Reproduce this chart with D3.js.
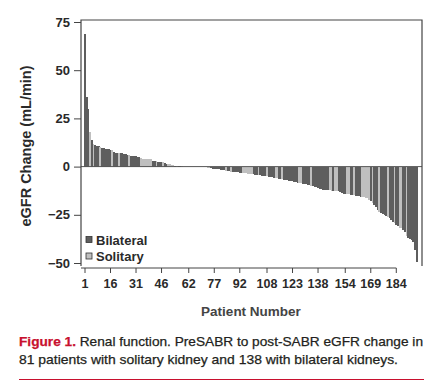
<!DOCTYPE html>
<html><head><meta charset="utf-8">
<script src="https://cdn.jsdelivr.net/npm/d3@7"></script>
<style>body{margin:0;background:#fff}svg{display:block}</style>
</head><body>
<svg id="c" width="446" height="381"></svg>
<script>
// eGFR change per patient (sorted), and kidney status (B = bilateral, S = solitary)
const change = [
 69,36,30,18,14,11.5,11,10.8,10.6,10.2,
 9.6,9.4,9.2,9,8.9,8.8,8.6,7.4,7.2,7.1,
 7,6.9,6.8,6.7,6.6,6,5.8,5.6,5.5,5.4,
 5.3,5.2,5.1,4.3,4.2,4.1,4,3.9,3.8,3.7,
 2.9,2.8,2.7,2.6,2.5,2.4,2.3,1.7,1.6,1.4,
 1.2,0.9,0.6,
 0.3,0.2,0.2,0.1,0.1,0,0,0,0,0,0,0,0,-0.1,-0.1,-0.2,-0.2,-0.3,-0.4,
 -0.6,-0.7,-0.9,-1.0,-1.1,-1.2,-1.3,-1.5,-1.6,-1.8,
 -2.0,-2.2,-2.4,-2.5,-2.6,-2.7,-2.8,-2.9,-3.0,-3.1,
 -3.2,-3.3,-3.4,-3.5,-3.6,-3.7,-3.8,-4.0,-4.1,-4.2,
 -4.3,-4.5,-4.7,-4.9,-5.0,-5.1,-5.2,-5.4,-5.6,-5.8,
 -5.9,-6.0,-6.2,-6.4,-6.5,-6.7,-6.9,-7.1,-7.3,-7.5,
 -7.7,-7.9,-8.1,-8.3,-8.5,-8.6,-8.8,-9.0,-9.2,-9.4,
 -9.6,-9.9,-10.2,-10.5,-10.8,-11.1,-11.4,-11.7,-11.9,-12.0,
 -12.1,-12.2,-12.3,-12.4,-12.5,-12.6,-12.7,-12.8,-13.0,-13.6,
 -14.0,-14.1,-14.2,-14.3,-14.5,-14.7,-14.8,-15.0,-15.1,-15.3,
 -15.6,-15.8,-16.0,-16.2,-16.5,-17.2,-18.0,-19.0,-20.0,-21.0,
 -22.5,-23.5,-24.0,-24.5,-25.0,-25.5,-26.0,-26.5,-27.5,-28.5,
 -29.5,-30.5,-31.0,-31.8,-32.0,-33.0,-34.0,-36.0,-37.0,-37.5,
 -38.3,-39.0,-43.0,-49.5
];
const kidney = [
 "B","B","B","S","B","S","B","B","B","S",
 "B","B","B","B","B","B","S","B","B","B",
 "S","B","B","B","B","B","S","B","B","B",
 "B","B","B","S","S","S","S","S","S","S",
 "B","B","S","B","B","B","S","B","B","S",
 "S","S","S",
 "B","S","B","B","S","B","B","S","B","B","B","S","B","B","S","B","B","B","S",
 "S","S","B","B","B","B","B","B","B","B",
 "B","S","B","B","S","B","B","B","B","B",
 "B","S","S","S","S","S","S","B","B","B",
 "S","B","B","B","B","S","B","B","B","B",
 "S","S","B","B","S","B","B","B","B","B",
 "B","B","B","B","S","S","B","B","B","B",
 "B","S","B","B","B","B","B","B","B","B",
 "B","B","S","S","B","S","S","B","B","B",
 "B","B","S","S","B","B","S","B","B","B",
 "B","S","S","S","S","S","B","S","B","B",
 "B","S","B","B","B","B","S","B","B","B",
 "S","B","B","S","S","B","B","S","B","B",
 "B","B","B","B"
];
const tickLabels = [1,16,31,46,62,77,92,108,123,138,154,169,184];
const yTicks = [-50,-25,0,25,50,75];
const legendLabels = ["Bilateral","Solitary"];
const legendKeys = ["B","S"];
const captionRed = "Figure 1.";
const caption1 = " Renal function. PreSABR to post-SABR eGFR change in";
const caption2 = "81 patients with solitary kidney and 138 with bilateral kidneys.";

const svg = d3.select("#c");
const fill = {B:"#5e5e5e", S:"#bfbfbf"};
const idx = change.map((d,i)=>i+1);
const x = d3.scaleBand().domain(idx).range([84.15, 84.15 + change.length*1.701]).padding(0);
const y = d3.scaleLinear().domain([-50,75]).range([263,22]);
const bold = "'Liberation Sans', Arial, sans-serif";

// bars
svg.append("g").selectAll("rect").data(change).join("rect")
  .attr("x",(d,i)=>x(i+1))
  .attr("width",x.bandwidth()+0.05)
  .attr("y",d=>y(Math.max(0,d)))
  .attr("height",d=>Math.abs(y(d)-y(0)))
  .attr("fill",(d,i)=>fill[kidney[i]])
  .attr("shape-rendering","crispEdges");

// zero line
svg.append("line").attr("x1",81).attr("x2",422).attr("y1",y(0)).attr("y2",y(0))
  .attr("stroke","#555").attr("stroke-width",1);

// box
svg.append("path").attr("d",`M81,266V20H422V266`).attr("fill","none")
  .attr("stroke","#444").attr("stroke-width",1.2);

// y axis
const ya = svg.append("g").attr("transform","translate(81,0)")
  .call(d3.axisLeft(y).tickValues(yTicks).tickSize(7).tickPadding(4));
ya.select(".domain").remove();
ya.selectAll(".tick line").attr("stroke","#444");
ya.selectAll("text").attr("font-family",bold).attr("font-weight","bold").attr("font-size","13px").attr("fill","#2a2a2a");

// x axis
const xa = svg.append("g").attr("transform","translate(0,268)")
  .call(d3.axisBottom(x).tickValues(tickLabels).tickSize(5).tickPadding(6));
xa.select(".domain").remove();
xa.append("line").attr("x1",81).attr("x2",x(184)+x.bandwidth()/2).attr("stroke","#444");
xa.selectAll(".tick line").attr("stroke","#444");
xa.selectAll("text").attr("font-family",bold).attr("font-weight","bold").attr("font-size","12.5px").attr("fill","#2a2a2a");

// axis titles
svg.append("text").attr("transform","translate(31,146) rotate(-90)").attr("text-anchor","middle")
  .attr("font-family",bold).attr("font-weight","bold").attr("font-size","14.5px").attr("fill","#2a2a2a")
  .text("eGFR Change (mL/min)");
svg.append("text").attr("x",251).attr("y",316).attr("text-anchor","middle")
  .attr("font-family",bold).attr("font-weight","bold").attr("font-size","13.5px").attr("fill","#444")
  .text("Patient Number");

// legend
const lg = svg.append("g");
legendLabels.forEach((l,i)=>{
  const cy = 240 + i*16.5;
  lg.append("rect").attr("x",86).attr("y",cy-3.5).attr("width",6).attr("height",6)
    .attr("fill",fill[legendKeys[i]]).attr("stroke","#333").attr("stroke-width",0.8);
  lg.append("text").attr("x",96).attr("y",cy+4.5).attr("font-family",bold).attr("font-weight","bold")
    .attr("font-size","13px").attr("fill","#2a2a2a").text(l);
});

// caption
const c1 = svg.append("text").attr("x",19).attr("y",346).attr("font-family","'Liberation Sans', Arial, sans-serif")
  .attr("font-size","13px").attr("fill","#231f20").attr("stroke","#231f20").attr("stroke-width",0.25)
  .attr("textLength",404).attr("lengthAdjust","spacingAndGlyphs");
c1.append("tspan").attr("fill","#c8102e").attr("stroke","#c8102e").attr("font-weight","bold").text(captionRed);
c1.append("tspan").text(caption1);
svg.append("text").attr("x",19).attr("y",364).attr("font-family","'Liberation Sans', Arial, sans-serif")
  .attr("font-size","13px").attr("fill","#231f20").attr("stroke","#231f20").attr("stroke-width",0.25)
  .attr("textLength",379).attr("lengthAdjust","spacingAndGlyphs")
  .text(caption2);
svg.append("line").attr("x1",19).attr("x2",424).attr("y1",379.5).attr("y2",379.5).attr("stroke","#c8102e").attr("stroke-width",1);
</script>
</body></html>
